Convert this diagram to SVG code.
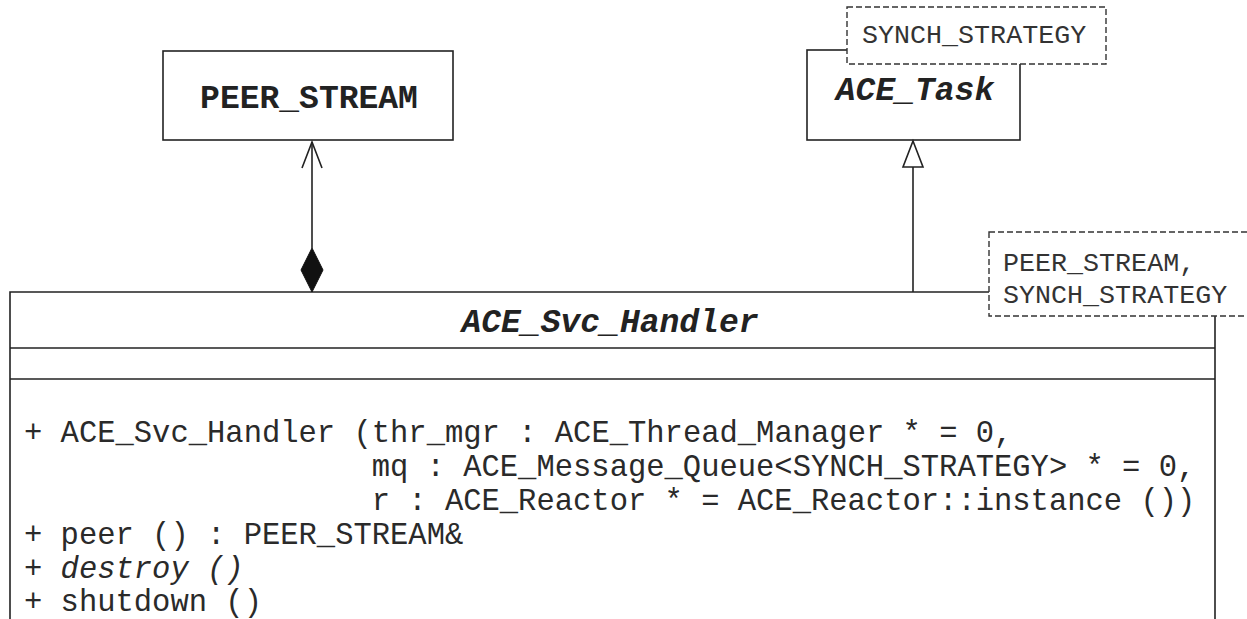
<svg xmlns="http://www.w3.org/2000/svg" width="1247" height="619" viewBox="0 0 1247 619">
<style>
.box{fill:#fff;stroke:#222;stroke-width:1.6}
.tmpl{fill:#fff;stroke:#333;stroke-width:1.4;stroke-dasharray:6 3}
.ln{fill:none;stroke:#222;stroke-width:1.6}
.t{font-family:"Liberation Mono",monospace;fill:#222}
.title{font-size:33px;font-weight:bold;text-anchor:middle}
.mem{font-size:30.5px;fill:#2a2a2a}
.tp{font-size:26.7px;fill:#333}
</style>
<rect width="1247" height="619" fill="#fff"/>
<g id="peer_stream">
<rect class="box" x="163" y="51" width="290" height="89"/>
<text class="t title" x="309" y="108">PEER_STREAM</text>
</g>
<g id="ace_task">
<rect class="box" x="807" y="50" width="213" height="90"/>
<text class="t title" x="915" y="100" font-style="italic">ACE_Task</text>
<rect class="tmpl" x="847" y="7" width="259" height="57"/>
<text class="t tp" x="862" y="43">SYNCH_STRATEGY</text>
</g>
<g id="ace_svc_handler">
<path class="ln" d="M10,619 V292 H990 M1215,316 V619"/>
<line class="ln" x1="10" y1="348" x2="1215" y2="348"/>
<line class="ln" x1="10" y1="379" x2="1215" y2="379"/>
<text class="t title" x="610" y="332" font-style="italic">ACE_Svc_Handler</text>
<text class="t mem" x="24" y="442">+ ACE_Svc_Handler (thr_mgr : ACE_Thread_Manager * = 0,</text>
<text class="t mem" x="371.7" y="476">mq : ACE_Message_Queue&lt;SYNCH_STRATEGY&gt; * = 0,</text>
<text class="t mem" x="371.7" y="510">r : ACE_Reactor * = ACE_Reactor::instance ())</text>
<text class="t mem" x="24" y="544">+ peer () : PEER_STREAM&amp;</text>
<text class="t mem" x="24" y="578">+ <tspan font-style="italic">destroy ()</tspan></text>
<text class="t mem" x="24" y="611">+ shutdown ()</text>
<rect class="tmpl" x="989" y="232" width="270" height="84"/>
<text class="t tp" x="1003" y="271">PEER_STREAM,</text>
<text class="t tp" x="1003" y="303">SYNCH_STRATEGY</text>
</g>
<g id="connectors">
<line class="ln" x1="312" y1="142" x2="312" y2="248"/>
<polyline class="ln" points="302,168 312,142 322,168"/>
<polygon points="312,248 323,270 312,292 301,270" fill="#111" stroke="#111" stroke-width="1"/>
<line class="ln" x1="913" y1="167" x2="913" y2="292"/>
<polygon points="913,141 923,167 903,167" fill="#fff" stroke="#222" stroke-width="1.6"/>
</g>
</svg>
